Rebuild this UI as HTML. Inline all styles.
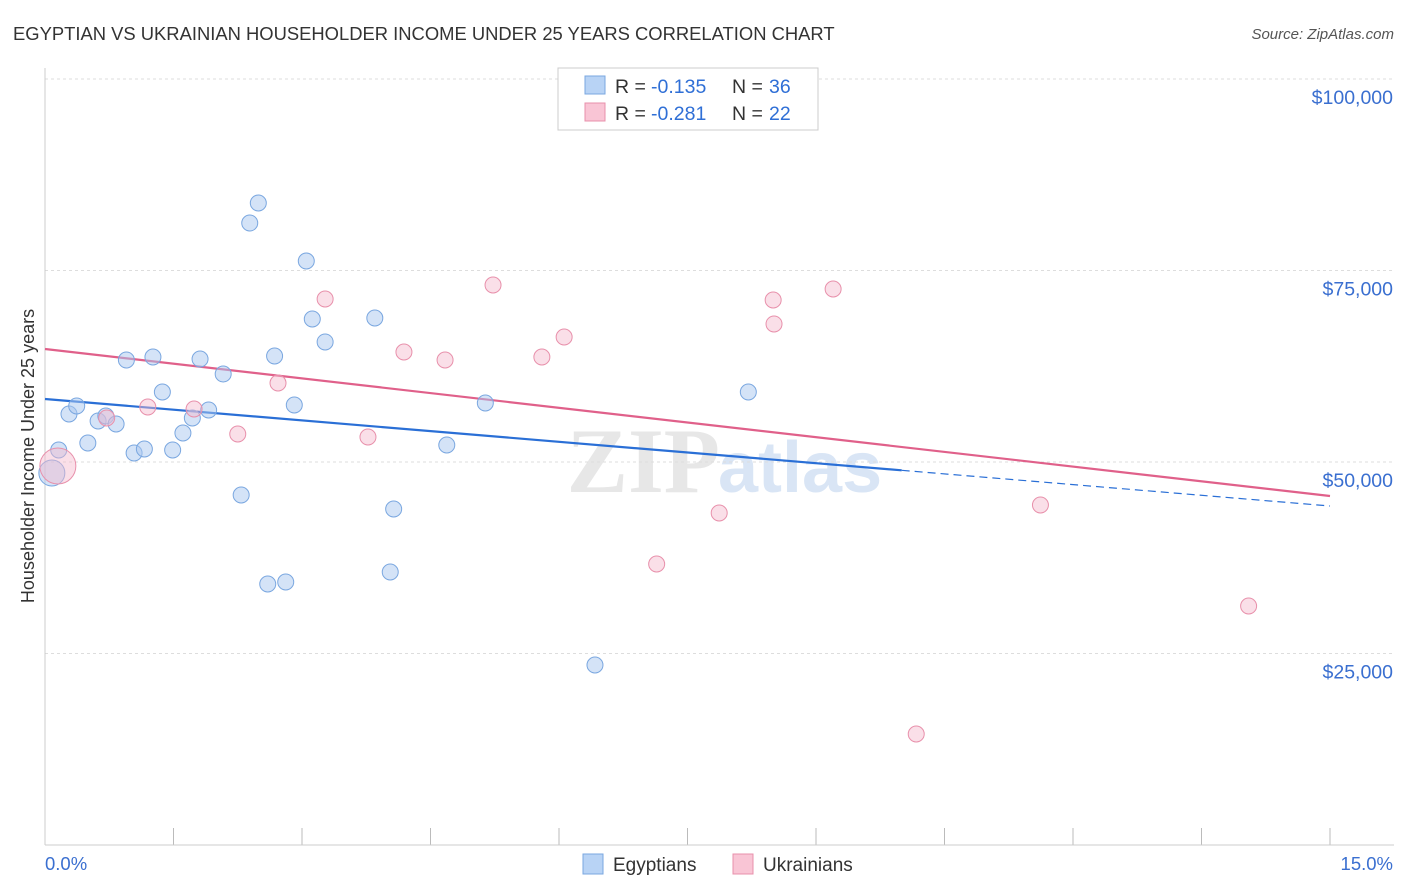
<!DOCTYPE html>
<html><head><meta charset="utf-8">
<style>
body{margin:0;background:#fff;font-family:"Liberation Sans",sans-serif;}
#wrap{position:relative;width:1406px;height:892px;overflow:hidden;}
</style></head>
<body>
<div id="wrap">
<svg id="svg" width="1406" height="892" xmlns="http://www.w3.org/2000/svg">
<text x="13" y="40" font-size="18.4" fill="#333">EGYPTIAN VS UKRAINIAN HOUSEHOLDER INCOME UNDER 25 YEARS CORRELATION CHART</text>
<text x="1394" y="39" font-size="15" fill="#555" text-anchor="end" font-style="italic">Source: ZipAtlas.com</text>
<text x="720" y="492" font-size="92" fill="#ddd" text-anchor="end" font-family="Liberation Serif" font-weight="bold" opacity="0.7">ZIP</text>
<text x="718" y="492" font-size="72" fill="#c9dbf2" font-weight="bold" opacity="0.7">atlas</text>
<g id="grid"></g>
<line x1="45" y1="68" x2="45" y2="845" stroke="#ccc"/>
<line x1="45" y1="845" x2="1394" y2="845" stroke="#ccc"/>
<text transform="translate(34,456) rotate(-90)" font-size="18" fill="#333" text-anchor="middle">Householder Income Under 25 years</text>
<text x="45" y="870" font-size="18.5" fill="#3a6fd0">0.0%</text>
<text x="1393" y="870" font-size="18.5" fill="#3a6fd0" text-anchor="end">15.0%</text>
<g id="lines"></g>
<g id="pts"></g>
<g>
<rect x="558" y="68" width="260" height="62" fill="#fff" stroke="#ccc"/>
<rect x="585" y="76" width="20" height="18" fill="#b8d3f5" stroke="#7aa7e0"/>
<rect x="585" y="103" width="20" height="18" fill="#f9c5d5" stroke="#e890ab"/>
<text x="615" y="93" font-size="19.5" fill="#333">R = </text>
<text x="651" y="93" font-size="19.5" fill="#2f6fd6">-0.135</text>
<text x="732" y="93" font-size="19.5" fill="#333">N = </text>
<text x="769" y="93" font-size="19.5" fill="#2f6fd6">36</text>
<text x="615" y="120" font-size="19.5" fill="#333">R = </text>
<text x="651" y="120" font-size="19.5" fill="#2f6fd6">-0.281</text>
<text x="732" y="120" font-size="19.5" fill="#333">N = </text>
<text x="769" y="120" font-size="19.5" fill="#2f6fd6">22</text>
</g>
<g>
<rect x="583" y="854" width="20" height="20" fill="#b8d3f5" stroke="#7aa7e0"/>
<text x="613" y="871" font-size="19" fill="#333">Egyptians</text>
<rect x="733" y="854" width="20" height="20" fill="#f9c5d5" stroke="#e890ab"/>
<text x="763" y="871" font-size="19" fill="#333">Ukrainians</text>
</g>
</svg>
</div>
<script>
const yTicks=[25000,50000,75000,100000];
const yTickLabels=["$25,000","$50,000","$75,000","$100,000"];
const xTicks=[0,1.5,3,4.5,6,7.5,9,10.5,12,13.5,15];
const egyX=[0.08,0.16,0.28,0.37,0.50,0.62,0.71,0.83,0.95,1.04,1.16,1.26,1.37,1.49,1.61,1.72,1.81,1.91,2.08,2.29,2.39,2.49,2.60,2.68,2.81,2.91,3.05,3.12,3.27,3.85,4.03,4.07,4.69,5.14,6.42,8.21];
const egyY=[48565,51567,56267,57311,52481,55353,56006,54962,63317,51176,51698,63708,59139,51567,53787,55745,63447,56789,61489,45693,81202,83813,34074,63839,34335,57442,76241,68669,65667,68800,35640,43865,52220,57703,23499,59139];
const ukrX=[0.15,0.72,1.20,1.74,2.25,2.72,3.27,3.77,4.19,4.67,5.23,5.80,6.06,6.92,7.14,7.87,8.50,8.51,9.20,10.17,11.62,14.05];
const ukrY=[49478,55745,57181,56920,53656,60314,71280,53264,64361,63317,73108,63708,66319,94910,36684,43343,71150,68017,72586,14491,44387,31201];
const egyTrend=[58225,44256];
const ukrTrend=[64753,45562];
const egySolidEnd=10.0;

const NS="http://www.w3.org/2000/svg";
function sx(v){return 45+v*(1330-45)/15;}
function sy(v){return 845-v*191.5/25000;}
function mk(tag,attrs,parent){const e=document.createElementNS(NS,tag);for(const k in attrs)e.setAttribute(k,attrs[k]);parent.appendChild(e);return e;}
const grid=document.getElementById('grid');
yTicks.forEach((t,i)=>{
  const l=mk('line',{x1:45,x2:1394,y1:sy(t),y2:sy(t),stroke:'#ddd','stroke-dasharray':'3,3'},grid);
  
  
  const tx=mk('text',{x:1393,y:sy(t)+25,'font-size':19.5,fill:'#3a6fd0','text-anchor':'end'},grid);
  tx.textContent=yTickLabels[i];
  
  
});
xTicks.forEach(t=>{
  const l=mk('line',{x1:sx(t),x2:sx(t),y1:828,y2:845,stroke:'#bbb'},grid);
  
  
});
const lines=document.getElementById('lines');
function yAt(tr,x){return tr[0]+(tr[1]-tr[0])*x/15;}
let l1=mk('line',{x1:sx(0),y1:sy(egyTrend[0]),x2:sx(egySolidEnd),y2:sy(yAt(egyTrend,egySolidEnd)),stroke:'#2a6fd6','stroke-width':2.2},lines);


let l2=mk('line',{x1:sx(egySolidEnd),y1:sy(yAt(egyTrend,egySolidEnd)),x2:sx(15),y2:sy(egyTrend[1]),stroke:'#2a6fd6','stroke-width':1.2,'stroke-dasharray':'8,5'},lines);


let l3=mk('line',{x1:sx(0),y1:sy(ukrTrend[0]),x2:sx(15),y2:sy(ukrTrend[1]),stroke:'#e0608a','stroke-width':2.2},lines);


const pts=document.getElementById('pts');
egyX.forEach((x,i)=>{
  const c=mk('circle',{cx:sx(x),cy:sy(egyY[i]),r:i===0?13:8,fill:'rgba(169,200,240,0.5)',stroke:'#7aa7e0','stroke-width':1},pts);
  
  
});
ukrX.forEach((x,i)=>{
  const c=mk('circle',{cx:sx(x),cy:sy(ukrY[i]),r:i===0?18:8,fill:'rgba(245,184,203,0.45)',stroke:'#e890ab','stroke-width':1},pts);
  
  
});
</script>
</body></html>
